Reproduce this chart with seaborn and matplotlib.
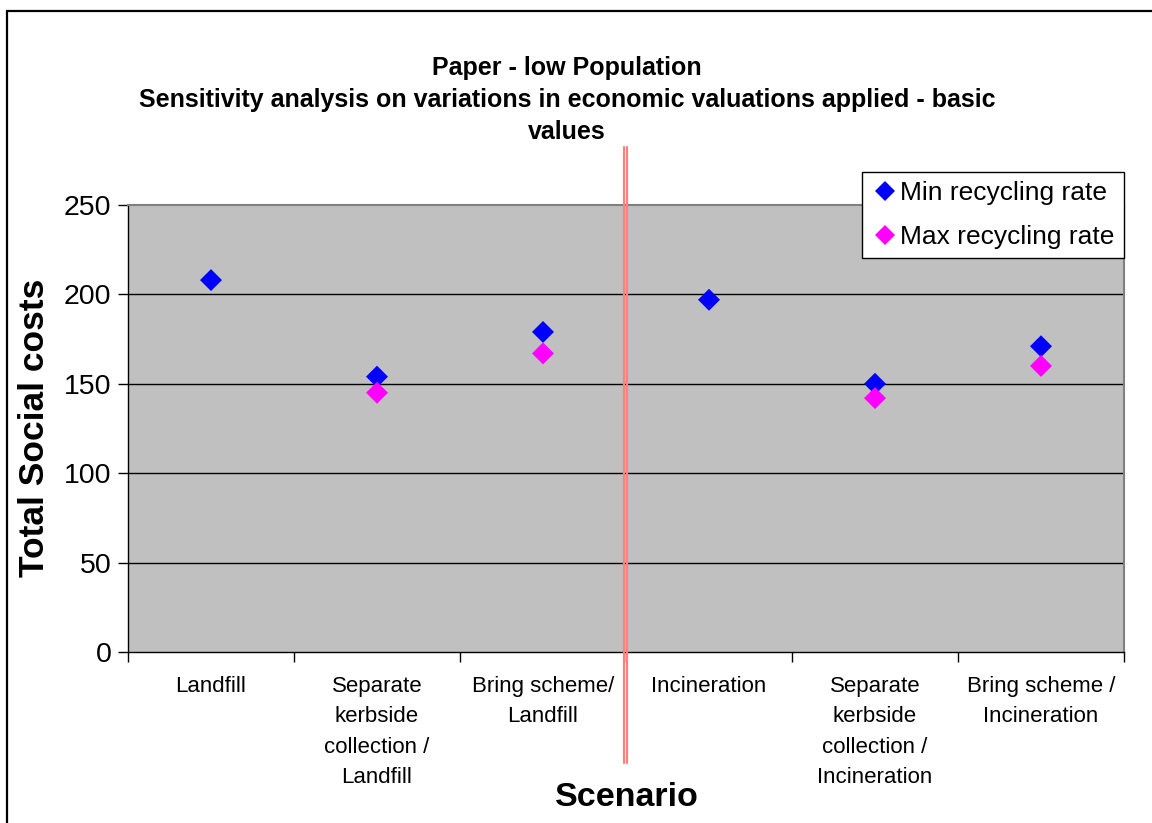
import numpy as np
import pandas as pd
import matplotlib
matplotlib.use("Agg")
import matplotlib.pyplot as plt
import matplotlib.transforms as mtransforms
from matplotlib.lines import Line2D
import seaborn as sns

# ---- data ----
scenarios = [
    "Landfill",
    "Separate\nkerbside\ncollection /\nLandfill",
    "Bring scheme/\nLandfill",
    "Incineration",
    "Separate\nkerbside\ncollection /\nIncineration",
    "Bring scheme /\nIncineration",
]
min_rate = [208, 154, 179, 197, 150, 171]
max_rate = [np.nan, 145, 167, np.nan, 142, 160]
series_names = ["Min recycling rate", "Max recycling rate"]
y_ticks = [0, 50, 100, 150, 200, 250]

df = pd.DataFrame({
    "pos": list(range(len(scenarios))) * 2,
    "value": min_rate + max_rate,
    "series": [series_names[0]] * len(scenarios) + [series_names[1]] * len(scenarios),
}).dropna()

sns.set_style("white")
plt.rcParams["font.family"] = ["Liberation Sans", "DejaVu Sans"]
plt.rcParams["text.color"] = "black"
plt.rcParams["xtick.color"] = "black"
plt.rcParams["ytick.color"] = "black"
plt.rcParams["xtick.labelcolor"] = "black"
plt.rcParams["ytick.labelcolor"] = "black"

W, H = 1152, 823
fig = plt.figure(figsize=(W / 100, H / 100), dpi=100)
ax = fig.add_axes([128 / W, (H - 652) / H, (1124 - 128) / W, 447 / H])
ax.set_facecolor("#C0C0C0")

for y in y_ticks[1:-1]:
    ax.axhline(y, color="black", linewidth=1.0, zorder=1)

sns.scatterplot(data=df, x="pos", y="value", hue="series", hue_order=series_names,
                palette=["#0000FF", "#FF00FF"], marker="D", s=125, linewidth=0,
                ax=ax, zorder=3)

ax.set_xlim(-0.5, len(scenarios) - 0.5)
ax.set_ylim(0, 250)
ax.set_yticks(y_ticks)
ax.set_yticklabels([str(v) for v in y_ticks], fontsize=20.5)
ax.tick_params(axis="y", direction="out", length=7, width=1, color="black", pad=5, left=True)

ax.set_xticks(np.arange(-0.5, len(scenarios), 1.0))
ax.set_xticklabels([])
ax.tick_params(axis="x", which="major", direction="out", length=7, width=1, color="black", bottom=True)
ax.set_xticks(np.arange(len(scenarios)), minor=True)
ax.set_xticklabels(scenarios, minor=True, fontsize=16, linespacing=1.6, va="top")
ax.tick_params(axis="x", which="minor", length=0, pad=17)

for side in ["left", "bottom"]:
    ax.spines[side].set_color("black")
    ax.spines[side].set_linewidth(1.0)
for side in ["top", "right"]:
    ax.spines[side].set_color("#808080")
    ax.spines[side].set_linewidth(1.5)

ax.set_xlabel("")
ax.set_ylabel("")
fig.text(35 / W, 1 - 428 / H, "Total Social costs", rotation=90, fontsize=25.5,
         fontweight="bold", ha="center", va="center")
fig.text(627 / W, 1 - 797 / H, "Scenario", fontsize=24.5, fontweight="bold",
         ha="center", va="center")

fig.text(567 / W, 1 - 100 / H,
         "Paper - low Population\nSensitivity analysis on variations in economic valuations applied - basic\nvalues",
         fontsize=18, fontweight="bold", ha="center", va="center", linespacing=1.4)

# legend
handles, labels = ax.get_legend_handles_labels()
leg = ax.legend(handles=handles, labels=labels, loc="upper right",
                bbox_to_anchor=(1.0, (652 - 172) / 447), borderaxespad=0,
                fontsize=19, frameon=True, fancybox=False, framealpha=1.0,
                handletextpad=0.1, handlelength=1.0, borderpad=0.35,
                labelspacing=0.75, markerscale=0.9)
leg.get_frame().set_edgecolor("black")
leg.get_frame().set_linewidth(1.0)
leg.get_frame().set_facecolor("white")
leg.set_zorder(10)

# red double separator line
blend = mtransforms.blended_transform_factory(ax.transData, ax.transAxes)
y_top = (652 - 147) / 447
y_bot = (652 - 763) / 447
for dx in (-2.5, 0.8):
    tr = mtransforms.offset_copy(blend, fig=fig, x=dx, y=0, units="dots")
    ax.plot([2.5, 2.5], [y_bot, y_top], color="#FF8080", linewidth=1.6,
            transform=tr, clip_on=False, zorder=4)

# figure border (left and top only visible)
fig.add_artist(Line2D([7 / W, 7 / W], [0, 1 - 11 / H], color="black", linewidth=1.6,
                      transform=fig.transFigure))
fig.add_artist(Line2D([7 / W, 1], [1 - 11 / H, 1 - 11 / H], color="black", linewidth=1.6,
                      transform=fig.transFigure))

fig.savefig("out.png", dpi=100)
